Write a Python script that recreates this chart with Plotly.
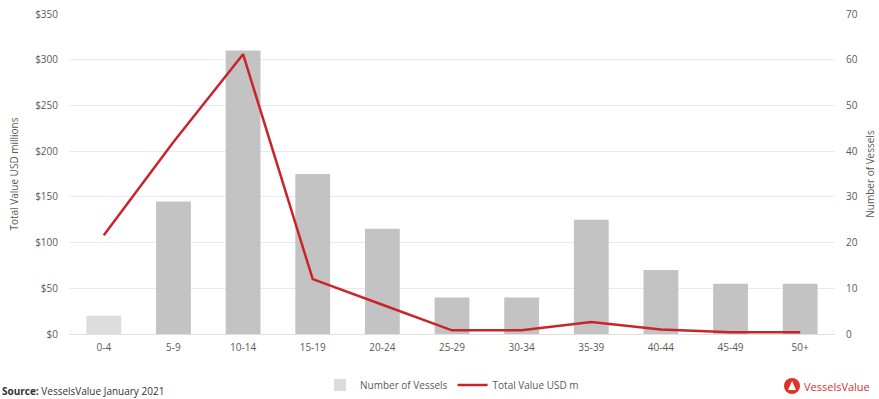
import plotly.graph_objects as go

# Fleet age profile: vessel counts per age bracket and total fleet value
age_groups = ["0-4", "5-9", "10-14", "15-19", "20-24", "25-29",
              "30-34", "35-39", "40-44", "45-49", "50+"]
vessel_counts = [4, 29, 62, 35, 23, 8, 8, 25, 14, 11, 11]
total_value_usd_m = [108, 210, 306, 60, 32, 4, 4, 13, 5, 2, 2]

left_ticks = [0, 50, 100, 150, 200, 250, 300, 350]
left_tick_text = ["$" + str(v) for v in left_ticks]
right_ticks = [0, 10, 20, 30, 40, 50, 60, 70]

bar_colors = ["#dcdcdc"] + ["#c3c3c3"] * (len(age_groups) - 1)
FONT = "Open Sans, DejaVu Sans, sans-serif"
tick_font = dict(family=FONT, size=10, color="#595959")

fig = go.Figure()
fig.add_trace(go.Bar(
    x=age_groups, y=vessel_counts, name="Number of Vessels",
    marker=dict(color=bar_colors, line=dict(width=0)),
    yaxis="y", width=0.5,
))
fig.add_trace(go.Scatter(
    x=age_groups, y=total_value_usd_m, name="Total Value USD m",
    mode="lines", line=dict(color="#c9242b", width=2.5),
    yaxis="y2",
))

fig.update_layout(
    width=879, height=399,
    margin=dict(l=69, r=44, t=14, b=65, autoexpand=False),
    paper_bgcolor="white", plot_bgcolor="white",
    font=tick_font,
    showlegend=True,
    legend=dict(orientation="h", x=0.5, xanchor="center",
                yref="container", y=0.035, yanchor="middle",
                font=dict(family=FONT, size=10, color="#595959"),
                traceorder="normal"),
    xaxis=dict(showgrid=False, showline=False, ticks="", tickfont=tick_font,
               ticklabelstandoff=6, automargin=False),
    yaxis=dict(side="right", range=[0, 70], tickvals=right_ticks,
               showgrid=True, gridcolor="#e9e9e9", gridwidth=1,
               zeroline=True, zerolinecolor="#e0e0e0", zerolinewidth=1,
               tickfont=tick_font, ticklabelstandoff=10, automargin=False,
               title=dict(text="Number of Vessels", font=dict(family=FONT, size=10, color="#595959"),
                          standoff=10)),
    yaxis2=dict(side="left", overlaying="y", range=[0, 350], tickvals=left_ticks,
                ticktext=left_tick_text, showgrid=False, zeroline=False,
                tickfont=tick_font, ticklabelstandoff=10, automargin=False,
                title=dict(text="Total Value USD millions",
                           font=dict(family=FONT, size=10, color="#595959"), standoff=14)),
)

# Source note and brand mark along the bottom edge
fig.add_annotation(
    xref="paper", yref="paper", x=-0.09, y=-0.178, xanchor="left", yanchor="middle",
    text="<b>Source:</b> VesselsValue January 2021", showarrow=False,
    font=dict(family=FONT, size=10, color="#333333"),
)
fig.add_shape(type="circle", xref="paper", yref="paper",
              x0=0.9334, x1=0.9543, y0=-0.1875, y1=-0.1375,
              fillcolor="#d9342b", line=dict(width=0))
fig.add_shape(type="path", xref="paper", yref="paper",
              path="M 0.9387 -0.175 L 0.944 -0.1469 L 0.9491 -0.175 Z",
              fillcolor="white", line=dict(width=0))
fig.add_annotation(
    xref="paper", yref="paper", x=0.957, y=-0.1625, xanchor="left", yanchor="middle",
    text="VesselsValue", showarrow=False,
    font=dict(family=FONT, size=11, color="#d9342b"),
)

fig.write_html("out.html")
